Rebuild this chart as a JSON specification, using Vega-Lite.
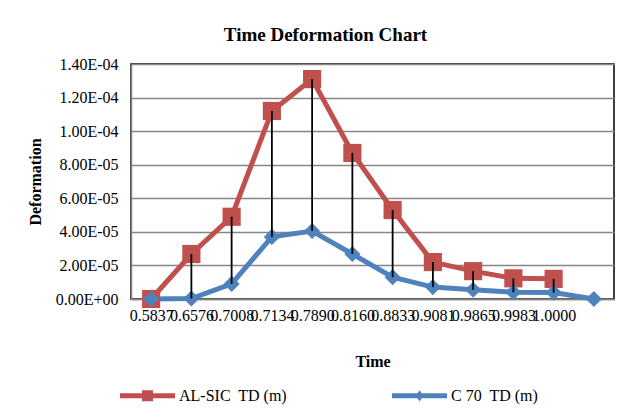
{
  "$schema": "https://vega.github.io/schema/vega-lite/v6.json",
  "autosize": "none",
  "width": 483,
  "height": 235,
  "padding": {"left": 131, "top": 64, "right": 16, "bottom": 118},
  "background": "white",
  "config": {
    "font": "Liberation Serif",
    "view": {"stroke": "#000000", "strokeWidth": 1.5},
    "axis": {"labelFont": "Liberation Serif", "titleFont": "Liberation Serif", "labelColor": "#000", "titleColor": "#000", "labelOverlap": false}
  },
  "title": {
    "text": "Time Deformation Chart",
    "font": "Liberation Serif",
    "fontSize": 19,
    "fontWeight": "bold",
    "color": "#000",
    "anchor": "middle",
    "offset": 11,
    "dx": -47
  },
  "data": {
    "values": [
      {"i": 0, "al": 0, "c70": 0},
      {"i": 1, "al": 0.0000268, "c70": 0.0000003},
      {"i": 2, "al": 0.0000490, "c70": 0.0000090},
      {"i": 3, "al": 0.0001120, "c70": 0.0000370},
      {"i": 4, "al": 0.0001310, "c70": 0.0000405},
      {"i": 5, "al": 0.0000870, "c70": 0.0000268},
      {"i": 6, "al": 0.0000530, "c70": 0.0000130},
      {"i": 7, "al": 0.0000220, "c70": 0.0000071},
      {"i": 8, "al": 0.0000166, "c70": 0.0000055},
      {"i": 9, "al": 0.0000123, "c70": 0.0000040},
      {"i": 10, "al": 0.0000120, "c70": 0.0000038},
      {"i": 11, "al": null, "c70": 0}
    ]
  },
  "resolve": {"axis": {"y": "independent"}},
  "encoding": {
    "x": {
      "field": "i",
      "type": "ordinal",
      "scale": {"type": "point", "padding": 0.5},
      "axis": {
        "title": "Time",
        "titleFontSize": 16,
        "titleFontWeight": "bold",
        "titlePadding": 30,
        "labelAngle": 0,
        "labelFontSize": 16,
        "labelOverlap": false,
        "labelPadding": 8,
        "labelExpr": "['0.5837','0.6576','0.7008','0.7134','0.7890','0.8160','0.8833','0.9081','0.9865','0.9983','1.0000',''][datum.value]",
        "domainColor": "#868686",
        "domainWidth": 1.5,
        "tickSize": 0,
        "grid": false
      }
    }
  },
  "layer": [
    {
      "transform": [
        {"fold": ["al", "c70"], "as": ["series", "v"]},
        {"filter": "datum.v != null"}
      ],
      "mark": {"type": "line", "strokeWidth": 5},
      "encoding": {
        "y": {
          "field": "v",
          "type": "quantitative",
          "scale": {"domain": [0, 0.00014], "nice": false},
          "axis": {
            "title": "Deformation",
            "titleFontSize": 16,
            "titleFontWeight": "bold",
            "titlePadding": 12,
            "labelFontSize": 16,
            "labelPadding": 13,
            "labelOverlap": false,
            "values": [0, 0.00002, 0.00004, 0.00006, 0.00008, 0.0001, 0.00012, 0.00014],
            "labelExpr": "replace(replace(format(datum.value, '.2e'), 'e-', 'E-0'), 'e+', 'E+0')",
            "gridColor": "#868686",
            "gridWidth": 1.5,
            "domainColor": "#868686",
            "domainWidth": 1.5,
            "tickSize": 0
          }
        },
        "color": {
          "field": "series",
          "type": "nominal",
          "scale": {"domain": ["al", "c70"], "range": ["#C0504D", "#4F81BD"]},
          "legend": {
            "title": null,
            "orient": "none",
            "legendX": -11,
            "legendY": 304,
            "direction": "horizontal",
            "symbolSize": 3025,
            "symbolStrokeWidth": 0,
            "labelFontSize": 16,
            "labelFont": "Liberation Serif",
            "labelColor": "#000",
            "labelOffset": 4,
            "columnPadding": 105,
            "labelLimit": 300,
            "labelExpr": "datum.value == 'al' ? 'AL-SIC\u00a0 TD (m)' : 'C 70\u00a0 TD (m)'",
            "encode": {
              "symbols": {
                "update": {
                  "shape": {"signal": "datum.value == 'al' ? 'M-1,-0.09H1V0.09H-1Z M-0.2,-0.2H0.2V0.2H-0.2Z' : 'M-1,-0.09H1V0.09H-1Z M0,-0.2L0.15,0L0,0.2L-0.15,0Z'"},
                  "fill": {"signal": "datum.value == 'al' ? '#C0504D' : '#4F81BD'"},
                  "stroke": {"value": "transparent"},
                  "strokeWidth": {"value": 0},
                  "opacity": {"value": 1},
                  "fillOpacity": {"value": 1}
                }
              }
            }
          }
        }
      }
    },
    {
      "transform": [{"filter": "datum.al != null"}],
      "mark": {"type": "point", "filled": true, "opacity": 1, "shape": "square", "size": 330, "color": "#C0504D"},
      "encoding": {
        "y": {"field": "al", "type": "quantitative", "axis": null}
      }
    },
    {
      "mark": {"type": "point", "filled": true, "opacity": 1, "shape": "diamond", "size": 260, "color": "#4F81BD"},
      "encoding": {
        "y": {"field": "c70", "type": "quantitative", "axis": null}
      }
    },
    {
      "mark": {"type": "rule", "color": "#000000", "strokeWidth": 1.8},
      "transform": [{"filter": "datum.al != null"}],
      "encoding": {
        "y": {"field": "al", "type": "quantitative", "axis": null},
        "y2": {"field": "c70"}
      }
    }
  ]
}
